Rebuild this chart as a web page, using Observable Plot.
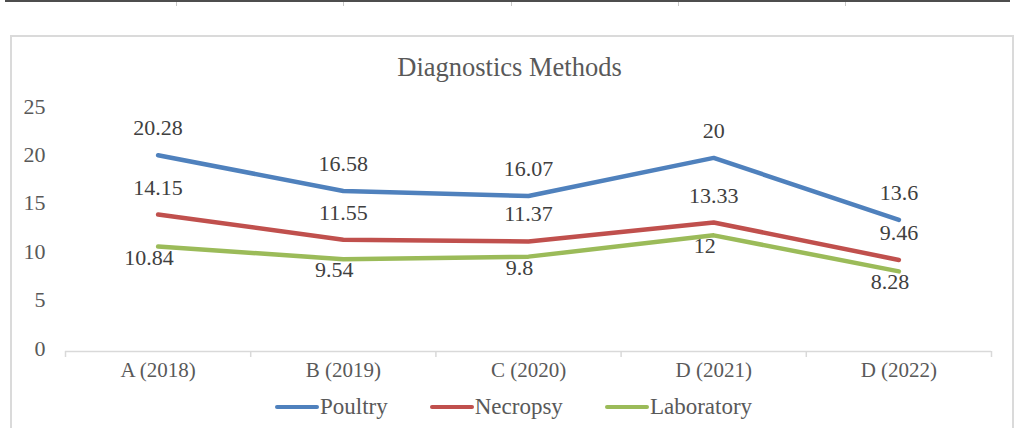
<!DOCTYPE html>
<html>
<head>
<meta charset="utf-8">
<script src="https://cdn.jsdelivr.net/npm/d3@7"></script>
<script src="https://cdn.jsdelivr.net/npm/@observablehq/plot@0.6"></script>
<style>
  html, body { margin: 0; padding: 0; background: #ffffff; }
  body { width: 1019px; height: 428px; overflow: hidden; font-family: "Liberation Serif", serif; }
  #wrap { position: relative; width: 1019px; height: 428px; }
  #topline { position: absolute; left: 5px; top: 0px; width: 1005px; height: 2px; background: #4d4d4d; }
  .tk { position: absolute; top: 2px; width: 1px; height: 4px; background: #c8c8c8; }
  #box { position: absolute; left: 10px; top: 35px; width: 1004px; height: 420px; border: 2px solid #dadada; box-sizing: border-box; }
  #title { position: absolute; left: 0; top: 54px; width: 1019px; text-align: center; font-size: 26.5px; line-height: 26px; color: #595959; }
  #chart { position: absolute; left: 0; top: 0; }
  #chart svg text { font-family: "Liberation Serif", serif; }
  #legend { position: absolute; left: 275px; top: 394px; display: flex; align-items: center; gap: 42px; font-size: 23px; line-height: 26px; color: #595959; }
  .item { display: flex; align-items: center; }
  .sw { width: 44px; height: 4.5px; border-radius: 3px; margin-right: 1px; }
</style>
</head>
<body>
<div id="wrap">
  <div id="topline"></div>
  <div class="tk" style="left:176px"></div>
  <div class="tk" style="left:343px"></div>
  <div class="tk" style="left:511px"></div>
  <div class="tk" style="left:678px"></div>
  <div class="tk" style="left:845px"></div>
  <div id="box"></div>
  <div id="title">Diagnostics Methods</div>
  <div id="chart"></div>
  <div id="legend"></div>
</div>
<script>
// ---- data ----
const categories = ["A (2018)", "B (2019)", "C (2020)", "D (2021)", "D (2022)"];
const poultry    = [20.28, 16.58, 16.07, 20, 13.6];
const necropsy   = [14.15, 11.55, 11.37, 13.33, 9.46];
const laboratory = [10.84, 9.54, 9.8, 12, 8.28];
const seriesNames = ["Poultry", "Necropsy", "Laboratory"];
const yTicks = [0, 5, 10, 15, 20, 25];

// ---- styles ----
const colors = ["#4f81bd", "#c0504d", "#9bbb59"];
const labelOffsets = { Poultry: [0, -27], Necropsy: [0, -27], Laboratory: [-9, 11] };
const serif = "Liberation Serif";

const seriesValues = [poultry, necropsy, laboratory];
const rows = [];
seriesNames.forEach((s, k) => {
  seriesValues[k].forEach((v, i) => rows.push({ series: s, i, value: v }));
});
const boundaries = d3.range(categories.length + 1).map(i => i - 0.5);

const labelMarks = seriesNames.map(s => Plot.text(rows.filter(r => r.series === s), {
  x: "i", y: "value", text: d => String(d.value),
  dx: labelOffsets[s][0], dy: labelOffsets[s][1],
  fontSize: 22, fontFamily: serif, fill: "#404040", textAnchor: "middle"
}));

const chart = Plot.plot({
  width: 1019,
  height: 428,
  marginTop: 109,
  marginBottom: 77,
  marginLeft: 65,
  marginRight: 28,
  style: { fontFamily: serif, background: "transparent", overflow: "visible" },
  x: { domain: [-0.5, categories.length - 0.5], label: null },
  y: { domain: [0, 25], label: null },
  color: { domain: seriesNames, range: colors },
  marks: [
    Plot.ruleY([0], { stroke: "#d9d9d9", strokeWidth: 1.5 }),
    Plot.ruleX(boundaries, { y1: 0, y2: -0.62, stroke: "#d9d9d9", strokeWidth: 1.5 }),
    Plot.axisY(yTicks, { tickSize: 0, tickPadding: 20, fontSize: 22, fontFamily: serif, color: "#595959", label: null, dy: -3 }),
    Plot.axisX(d3.range(categories.length), { tickSize: 0, tickPadding: 11, fontSize: 21, fontFamily: serif, color: "#595959", label: null, tickFormat: i => categories[i] }),
    Plot.line(rows, { x: "i", y: "value", z: "series", stroke: "series", strokeWidth: 4.5, strokeLinejoin: "round", strokeLinecap: "round" }),
    ...labelMarks
  ]
});
document.getElementById("chart").appendChild(chart);

// legend
const legend = document.getElementById("legend");
seriesNames.forEach((s, k) => {
  const item = document.createElement("div");
  item.className = "item";
  const sw = document.createElement("div");
  sw.className = "sw";
  sw.style.background = colors[k];
  const t = document.createElement("span");
  t.textContent = s;
  item.appendChild(sw);
  item.appendChild(t);
  legend.appendChild(item);
});
</script>
</body>
</html>
